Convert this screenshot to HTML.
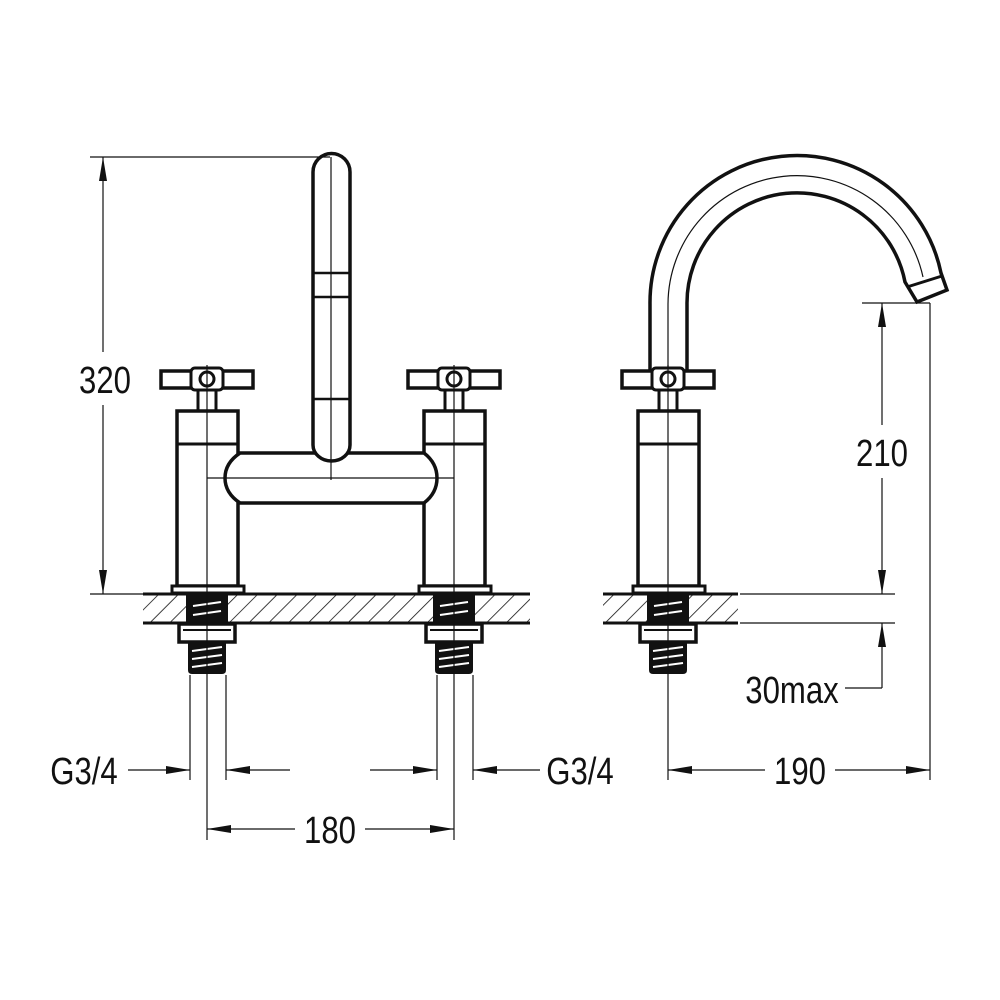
<!DOCTYPE html>
<html><head><style>
html,body{margin:0;padding:0;background:#fff}
svg{display:block}
text{font-family:"Liberation Sans",sans-serif;font-size:38px;fill:#111}
</style></head><body>
<svg width="1000" height="1000" viewBox="0 0 1000 1000" xmlns="http://www.w3.org/2000/svg">
<defs>
<pattern id="h" width="14" height="14" patternUnits="userSpaceOnUse" patternTransform="rotate(45)">
<line x1="0" y1="0" x2="0" y2="14" stroke="#111" stroke-width="1.6"/>
</pattern>
<g id="thr">
<rect x="-21" y="595" width="42" height="27" fill="#111"/>
<line x1="-14" y1="606" x2="14" y2="602" stroke="#fff" stroke-width="2"/>
<line x1="-14" y1="615" x2="14" y2="611" stroke="#fff" stroke-width="2"/>
<rect x="-28" y="624" width="56" height="18" fill="#fff" stroke="#111" stroke-width="3.5"/>
<line x1="-24" y1="630" x2="24" y2="630" stroke="#111" stroke-width="2"/>
<path d="M-19 642 L19 642 L19 670 Q19 674 15 674 L-15 674 Q-19 674 -19 670 Z" fill="#111"/>
<line x1="-15" y1="651" x2="15" y2="647" stroke="#fff" stroke-width="2"/>
<line x1="-15" y1="659" x2="15" y2="655" stroke="#fff" stroke-width="2"/>
<line x1="-15" y1="667" x2="15" y2="663" stroke="#fff" stroke-width="2"/>
</g>
<g id="ext">
<line x1="-17" y1="675" x2="-17" y2="780" stroke="#111" stroke-width="1.2"/>
<line x1="19" y1="675" x2="19" y2="780" stroke="#111" stroke-width="1.2"/>
</g>
<g id="col">
<rect x="-46" y="371" width="92" height="17" fill="#fff" stroke="#111" stroke-width="3.5"/>
<rect x="-9" y="388" width="18" height="23" fill="#fff" stroke="#111" stroke-width="3"/>
<rect x="-16" y="368" width="32" height="22" rx="4" fill="#fff" stroke="#111" stroke-width="3"/>
<circle cx="0" cy="379" r="7" fill="#fff" stroke="#111" stroke-width="3"/>
<rect x="-30" y="411" width="61" height="175" fill="#fff" stroke="#111" stroke-width="3.5"/>
<line x1="-30" y1="444" x2="31" y2="444" stroke="#111" stroke-width="3"/>
<rect x="-35" y="586" width="72" height="7" fill="#fff" stroke="#111" stroke-width="3"/>
</g>
<marker id="a" viewBox="0 0 24 10" refX="24" refY="5" markerWidth="24" markerHeight="10" markerUnits="userSpaceOnUse" orient="auto-start-reverse">
<path d="M0 1 L24 5 L0 9 Z" fill="#111"/>
</marker>
</defs>

<rect x="143" y="594" width="387" height="29" fill="url(#h)"/>
<line x1="143" y1="594" x2="530" y2="594" stroke="#111" stroke-width="3"/>
<line x1="143" y1="623" x2="530" y2="623" stroke="#111" stroke-width="3"/>
<rect x="603" y="594" width="135" height="29" fill="url(#h)"/>
<line x1="603" y1="594" x2="738" y2="594" stroke="#111" stroke-width="3"/>
<line x1="603" y1="623" x2="738" y2="623" stroke="#111" stroke-width="3"/>

<use href="#col" transform="translate(207,0)"/>
<use href="#col" transform="translate(454,0)"/>
<use href="#thr" transform="translate(207,0)"/>
<use href="#thr" transform="translate(454,0)"/>
<use href="#ext" transform="translate(207,0)"/>
<use href="#ext" transform="translate(454,0)"/>

<!-- bridge on top of columns -->
<path d="M240 453 L424 453 Q437 463 437 478 Q437 493 424 503 L240 503 Q225 493 225 478 Q225 463 240 453 Z" fill="#fff" stroke="#111" stroke-width="3.5"/>
<!-- front spout -->
<path d="M313 172 A18.5 18.5 0 0 1 350 172 L350 445 A18.5 16 0 0 1 313 445 Z" fill="#fff" stroke="#111" stroke-width="3.5"/>
<line x1="313" y1="273" x2="350" y2="273" stroke="#111" stroke-width="2.5"/>
<line x1="313" y1="297" x2="350" y2="297" stroke="#111" stroke-width="2.5"/>
<line x1="313" y1="399" x2="350" y2="399" stroke="#111" stroke-width="2.5"/>

<line x1="331" y1="157" x2="331" y2="480" stroke="#111" stroke-width="1.2"/>
<line x1="207" y1="478" x2="454" y2="478" stroke="#111" stroke-width="1.2"/>
<line x1="207" y1="365" x2="207" y2="840" stroke="#111" stroke-width="1.2"/>
<line x1="454" y1="365" x2="454" y2="840" stroke="#111" stroke-width="1.2"/>

<!-- side view -->
<path d="M650 372 L650 304 A147 147 0 0 1 941 273 L947 290 L917 302 L905 282 A110 110 0 0 0 687 304 L687 372 Z" fill="#fff" stroke="#111" stroke-width="3.5"/>
<path d="M668 372 L668 304 A129 129 0 0 1 923 277" fill="none" stroke="#111" stroke-width="1.2"/>
<line x1="907" y1="287" x2="942" y2="276" stroke="#111" stroke-width="3"/>
<use href="#col" transform="translate(668,0)"/>
<use href="#thr" transform="translate(668,0)"/>
<line x1="668" y1="365" x2="668" y2="780" stroke="#111" stroke-width="1.2"/>

<!-- 320 -->
<line x1="90" y1="157" x2="330" y2="157" stroke="#111" stroke-width="1.2"/>
<line x1="90" y1="594" x2="143" y2="594" stroke="#111" stroke-width="1.2"/>
<line x1="103" y1="157" x2="103" y2="352" stroke="#111" stroke-width="1.2" marker-start="url(#a)"/>
<line x1="103" y1="405" x2="103" y2="594" stroke="#111" stroke-width="1.2" marker-end="url(#a)"/>
<text x="105" y="393" text-anchor="middle" transform="translate(105,0) scale(0.82,1) translate(-105,0)">320</text>

<!-- 210 -->
<line x1="862" y1="303" x2="930" y2="303" stroke="#111" stroke-width="1.2"/>
<line x1="930" y1="303" x2="930" y2="780" stroke="#111" stroke-width="1.2"/>
<line x1="882" y1="303" x2="882" y2="425" stroke="#111" stroke-width="1.2" marker-start="url(#a)"/>
<line x1="882" y1="478" x2="882" y2="594" stroke="#111" stroke-width="1.2" marker-end="url(#a)"/>
<text x="882" y="466" text-anchor="middle" transform="translate(882,0) scale(0.82,1) translate(-882,0)">210</text>

<!-- 30max -->
<line x1="740" y1="594" x2="895" y2="594" stroke="#111" stroke-width="1.2"/>
<line x1="740" y1="623" x2="895" y2="623" stroke="#111" stroke-width="1.2"/>
<line x1="882" y1="623" x2="882" y2="688" stroke="#111" stroke-width="1.2" marker-start="url(#a)"/>
<line x1="882" y1="688" x2="845" y2="688" stroke="#111" stroke-width="1.2"/>
<text x="792" y="703" text-anchor="middle" transform="translate(792,0) scale(0.82,1) translate(-792,0)">30max</text>

<!-- 190 -->
<line x1="668" y1="770" x2="765" y2="770" stroke="#111" stroke-width="1.2" marker-start="url(#a)"/>
<line x1="835" y1="770" x2="930" y2="770" stroke="#111" stroke-width="1.2" marker-end="url(#a)"/>
<text x="800" y="784" text-anchor="middle" transform="translate(800,0) scale(0.82,1) translate(-800,0)">190</text>

<!-- 180 -->
<line x1="207" y1="829" x2="295" y2="829" stroke="#111" stroke-width="1.2" marker-start="url(#a)"/>
<line x1="365" y1="829" x2="454" y2="829" stroke="#111" stroke-width="1.2" marker-end="url(#a)"/>
<text x="330" y="843" text-anchor="middle" transform="translate(330,0) scale(0.82,1) translate(-330,0)">180</text>

<!-- G3/4 left -->
<line x1="128" y1="770" x2="190" y2="770" stroke="#111" stroke-width="1.2" marker-end="url(#a)"/>
<line x1="290" y1="770" x2="226" y2="770" stroke="#111" stroke-width="1.2" marker-end="url(#a)"/>
<text x="84" y="784" text-anchor="middle" transform="translate(84,0) scale(0.82,1) translate(-84,0)">G3/4</text>

<!-- G3/4 right -->
<line x1="370" y1="770" x2="437" y2="770" stroke="#111" stroke-width="1.2" marker-end="url(#a)"/>
<line x1="540" y1="770" x2="473" y2="770" stroke="#111" stroke-width="1.2" marker-end="url(#a)"/>
<text x="580" y="784" text-anchor="middle" transform="translate(580,0) scale(0.82,1) translate(-580,0)">G3/4</text>
</svg>
</body></html>
